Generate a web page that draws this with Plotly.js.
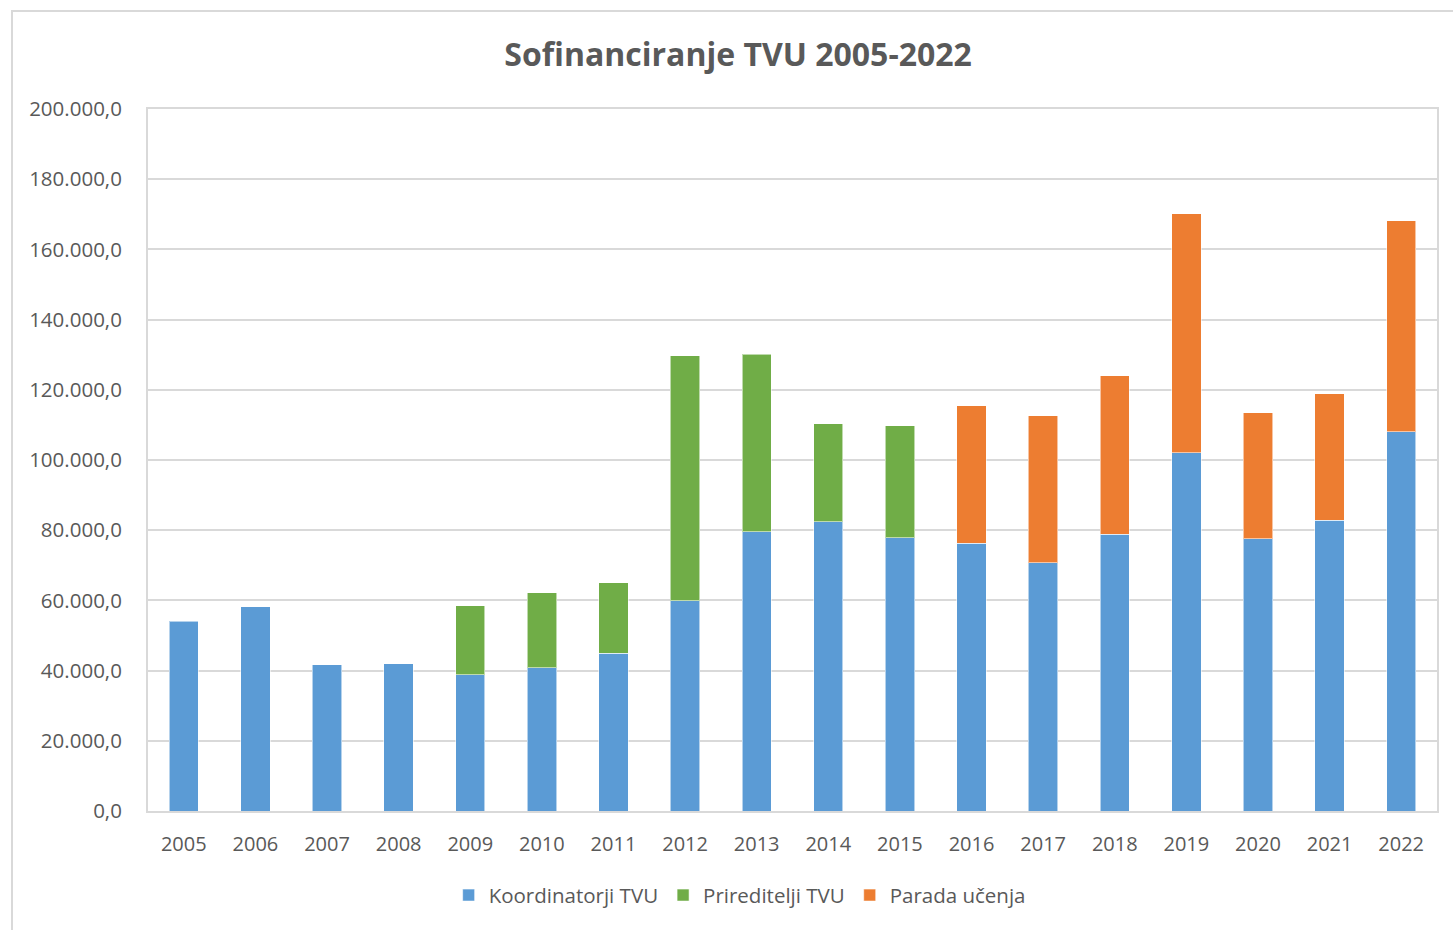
<!DOCTYPE html>
<html><head><meta charset="utf-8">
<script src="https://cdn.plot.ly/plotly-3.0.1.min.js"></script>
<style>
html,body{margin:0;padding:0;background:#fff;overflow:hidden}
#frame{position:absolute;left:11px;top:10px;width:1460px;height:940px;border:2px solid #d9d9d9;box-sizing:border-box;pointer-events:none;z-index:5}
#chart{position:absolute;left:0;top:0;width:1453px;height:930px}
</style></head>
<body>
<div id="chart"></div>
<div id="frame"></div>
<script>
const years = ['2005','2006','2007','2008','2009','2010','2011','2012','2013','2014','2015','2016','2017','2018','2019','2020','2021','2022'];
const koordinatorji = [54000,58200,41700,42000,38800,40800,45000,59900,79500,82400,77900,76300,70700,78800,102000,77500,82900,108000];
const prireditelji = [0,0,0,0,19700,21400,20000,69800,50700,27900,31900,0,0,0,0,0,0,0];
const parada = [0,0,0,0,0,0,0,0,0,0,0,39100,41900,45200,68100,35900,36000,60100];

const font = "Open Sans, Lato, sans-serif";
const line = {color:'rgba(255,255,255,0.55)', width:1};
function nz(a){return a.map(v=>v===0?null:v);}
const traces = [
  {type:'bar', name:'Koordinatorji TVU', x:years, y:koordinatorji, marker:{color:'#5b9bd5', line:line}},
  {type:'bar', name:'Prireditelji TVU', x:years, y:nz(prireditelji), marker:{color:'#70ad47', line:line}},
  {type:'bar', name:'Parada učenja', x:years, y:nz(parada), marker:{color:'#ed7d31', line:line}}
];
const layout = {
  width:1453, height:930,
  margin:{l:148, r:16, t:109, b:119},
  barmode:'stack', bargap:0.59,
  separators:',.',
  paper_bgcolor:'#fff', plot_bgcolor:'#fff',
  font:{family:font, color:'#595959', size:20},
  title:{text:'<b>Sofinanciranje TVU 2005-2022</b>', x:0.508, xanchor:'center', y:0.941, yanchor:'middle', font:{family:font, size:32, color:'#595959'}},
  xaxis:{type:'category', showline:true, mirror:true, linecolor:'#d9d9d9', linewidth:2, showgrid:false, ticks:'', ticklabelstandoff:14, tickfont:{size:20, color:'#595959'}},
  yaxis:{range:[0,200000], dtick:20000, tickformat:',.1f', showgrid:true, gridcolor:'#d9d9d9', gridwidth:2, showline:true, mirror:true, linecolor:'#d9d9d9', linewidth:2, zeroline:false, ticks:'', ticklabelstandoff:20, tickfont:{size:20.5, color:'#595959'}},
  legend:{orientation:'h', x:0.459, xanchor:'center', y:-0.12, yanchor:'middle', font:{size:20.5, color:'#595959'}, itemwidth:30, traceorder:'normal'},
  showlegend:true
};
Plotly.newPlot('chart', traces, layout, {displayModeBar:false, staticPlot:true});
</script>
</body></html>
